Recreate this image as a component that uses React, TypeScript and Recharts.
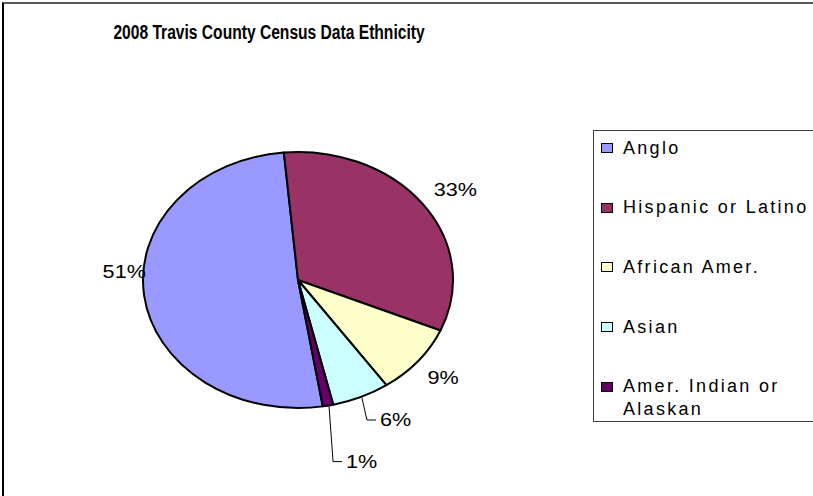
import React from 'react';
import { PieChart, Pie, Legend } from 'recharts';

const TITLE = '2008 Travis County Census Data Ethnicity';
const CATEGORIES = ['Anglo', 'Hispanic or Latino', 'African Amer.', 'Asian', 'Amer. Indian or Alaskan'];
const SHARES = [51.1, 32.9, 8.9, 6.0, 1.1];
const COLORS = ['#9999FF', '#993366', '#FFFFCC', '#CCFFFF', '#660066'];

const data = CATEGORIES.map((name, i) => ({ name, value: SHARES[i] }));

// label placement (style only): offsets relative to each slice's mid-edge point
const LABEL_LAYOUT = [
  { dx: -20, dy: -24 },
  { dx: 32, dy: -15 },
  { dx: 25, dy: 17 },
  { leader: true, elbowDx: 6, dy: 23 },
  { leader: true, elbowDx: 5, dy: 56 },
];

const W = 813;
const H = 496;
const RY_RATIO = 0.826;
const RAD = Math.PI / 180;
const FONT = '"Liberation Sans", Arial, sans-serif';

const pt = (cx: number, cy: number, rx: number, ry: number, a: number) => ({
  x: cx + rx * Math.cos(a * RAD),
  y: cy - ry * Math.sin(a * RAD),
});

const renderSector = (props: any) => {
  const { cx, cy, outerRadius, startAngle, endAngle, index } = props;
  const rx = outerRadius;
  const ry = outerRadius * RY_RATIO;
  const p1 = pt(cx, cy, rx, ry, startAngle);
  const p2 = pt(cx, cy, rx, ry, endAngle);
  const large = Math.abs(startAngle - endAngle) > 180 ? 1 : 0;
  const sweep = startAngle > endAngle ? 1 : 0;
  const d = `M${cx},${cy} L${p1.x},${p1.y} A${rx},${ry} 0 ${large} ${sweep} ${p2.x},${p2.y} Z`;
  return (
    <path
      key={`sec-${index}`}
      d={d}
      fill={COLORS[index]}
      stroke="#000"
      strokeWidth={2}
      strokeLinejoin="round"
    />
  );
};

const renderLabel = (props: any) => {
  const { cx, cy, outerRadius, midAngle, percent, index } = props;
  const rx = outerRadius;
  const ry = outerRadius * RY_RATIO;
  const m = pt(cx, cy, rx, ry, midAngle);
  const lay: any = LABEL_LAYOUT[index];
  const txt = `${Math.round(percent * 100)}%`;
  const textStyle = { fontFamily: FONT, fontSize: 18, fill: '#000' };
  if (lay.leader) {
    const ex = m.x + lay.elbowDx;
    const ey = m.y + lay.dy;
    const hx = ex + 9;
    return (
      <g key={`lab-${index}`}>
        <polyline
          points={`${m.x + 1},${m.y + 1} ${ex},${ey} ${hx},${ey}`}
          fill="none"
          stroke="#000"
          strokeWidth={1}
        />
        <text
          transform={`translate(${hx + 4},${ey}) scale(1.2,1)`}
          textAnchor="start"
          dominantBaseline="central"
          style={textStyle}
        >
          {txt}
        </text>
      </g>
    );
  }
  return (
    <text
      key={`lab-${index}`}
      transform={`translate(${m.x + lay.dx},${m.y + lay.dy}) scale(1.2,1)`}
      textAnchor="middle"
      dominantBaseline="central"
      style={textStyle}
    >
      {txt}
    </text>
  );
};

const ROW_H = 59.7;

const renderLegend = () => (
  <div
    style={{
      position: 'relative',
      width: 240,
      height: 292,
      boxSizing: 'border-box',
      border: '1px solid #404040',
      background: '#fff',
      fontFamily: FONT,
    }}
  >
    {CATEGORIES.map((name, i) => (
      <div
        key={name}
        style={{
          position: 'absolute',
          left: 7,
          top: 5.5 + i * ROW_H,
          display: 'flex',
          alignItems: 'flex-start',
        }}
      >
        <div
          style={{
            width: 12,
            height: 10,
            marginTop: 6.5,
            marginRight: 10,
            boxSizing: 'border-box',
            border: '1.5px solid #000',
            background: COLORS[i],
            flex: 'none',
          }}
        />
        <div
          style={{
            width: 195,
            fontSize: 18,
            lineHeight: '23px',
            letterSpacing: 2.3,
            color: '#000',
          }}
        >
          {name}
        </div>
      </div>
    ))}
  </div>
);

export default function App() {
  return (
    <div
      style={{
        position: 'absolute',
        left: 0,
        top: 0,
        width: W,
        height: H,
        overflow: 'hidden',
        background: '#fff',
        fontFamily: FONT,
      }}
    >
      <div
        style={{
          position: 'absolute',
          left: 2,
          top: 2,
          width: 900,
          height: 600,
          borderTop: '2px solid #5a5a5a',
          borderLeft: '2px solid #000',
        }}
      />
      <div
        style={{
          position: 'absolute',
          left: 0,
          top: 22,
          width: 538,
          textAlign: 'center',
          fontSize: 20,
          lineHeight: '20px',
          fontWeight: 'bold',
          color: '#000',
          transform: 'scaleX(0.78)',
          transformOrigin: '50% 50%',
          whiteSpace: 'nowrap',
        }}
      >
        {TITLE}
      </div>
      <div style={{ position: 'absolute', left: 0, top: 0 }}>
        <PieChart width={W} height={H} margin={{ top: 0, right: 0, bottom: 0, left: 0 }}>
          <Pie
            data={data}
            dataKey="value"
            nameKey="name"
            cx={298}
            cy={280}
            outerRadius={155}
            startAngle={-80.8}
            endAngle={-440.8}
            fill="transparent"
            stroke="none"
            label={renderSector}
            labelLine={false}
            isAnimationActive={false}
          />
          <Pie
            data={data}
            dataKey="value"
            nameKey="name"
            cx={298}
            cy={280}
            outerRadius={155}
            startAngle={-80.8}
            endAngle={-440.8}
            fill="transparent"
            stroke="none"
            label={renderLabel}
            labelLine={false}
            isAnimationActive={false}
            legendType="none"
          />
          <Legend
            layout="vertical"
            align="right"
            verticalAlign="top"
            content={renderLegend}
            wrapperStyle={{ left: 593, top: 130, width: 240, height: 292 }}
          />
        </PieChart>
      </div>
    </div>
  );
}
